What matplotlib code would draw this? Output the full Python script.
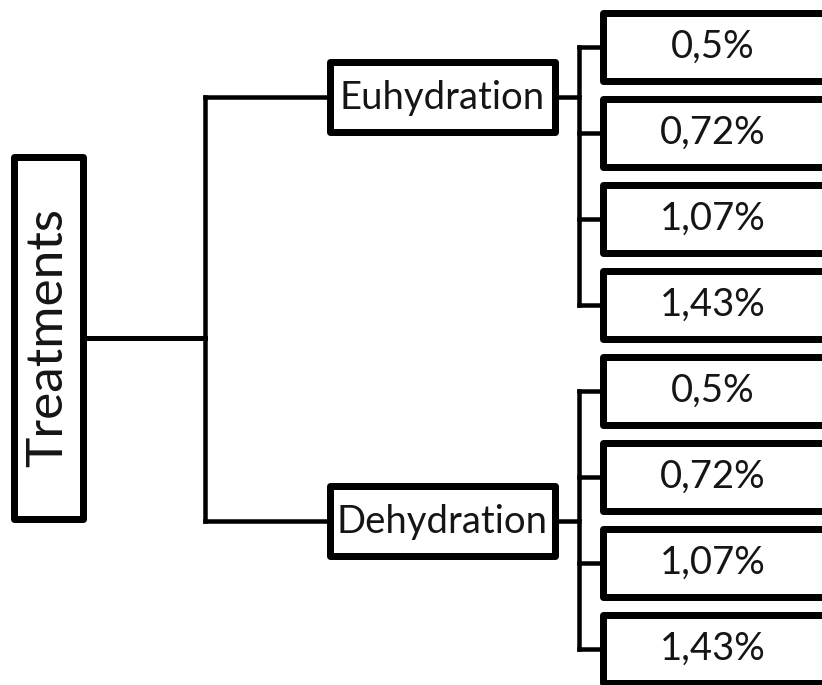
import matplotlib
matplotlib.use("Agg")
import matplotlib.pyplot as plt
from matplotlib.patches import Rectangle

# tree content
root_label = "Treatments"
group_labels = ["Euhydration", "Dehydration"]
dose_labels = ["0,5%", "0,72%", "1,07%", "1,43%"]

# layout in pixels (figure is 822 x 685, y grows downward)
W, H = 822, 685
root_box = (10, 153, 86, 522)          # left, top, right, bottom (outer edge)
root_center_y = 338
trunk_x = 205
group_box_x = (326, 558)
group_center_y = [97, 521]
group_box_h = 77
branch_x = 579
leaf_box_x = (599, 830)
leaf_first_y = 47
leaf_pitch = 86
leaf_box_h = 75

border_px = 7
line_px = 4.5
px2pt = 72 / 100

plt.rcParams["font.family"] = ["Lato", "DejaVu Sans"]
text_color = "#151515"

fig = plt.figure(figsize=(W / 100, H / 100), dpi=100)
ax = fig.add_axes([0, 0, 1, 1])
ax.set_xlim(0, W)
ax.set_ylim(H, 0)
ax.axis("off")


def box(x0, y0, x1, y1):
    # outer edges given, stroke is centred on the path
    h = border_px / 2
    ax.add_patch(Rectangle((x0 + h, y0 + h), x1 - x0 - border_px, y1 - y0 - border_px,
                           fill=True, facecolor="white", edgecolor="black",
                           linewidth=border_px * px2pt, joinstyle="round", zorder=3))


def seg(xs, ys, lw=line_px):
    ax.plot(xs, ys, color="black", linewidth=lw * px2pt,
            solid_capstyle="projecting", zorder=2)


# root
box(*root_box)
ax.text((root_box[0] + root_box[2]) / 2, (root_box[1] + root_box[3]) / 2, root_label,
        rotation=90, ha="center", va="center", fontsize=37, color=text_color, zorder=4)
seg([root_box[2], trunk_x], [root_center_y, root_center_y], lw=5)
seg([trunk_x, trunk_x], [group_center_y[0], group_center_y[-1]])

for g, (label, gy) in enumerate(zip(group_labels, group_center_y)):
    seg([trunk_x, group_box_x[0]], [gy, gy])
    box(group_box_x[0], gy - group_box_h / 2, group_box_x[1], gy + group_box_h / 2)
    ax.text(sum(group_box_x) / 2, gy + 1, label, ha="center", va="center",
            fontsize=27.5, color=text_color, zorder=4)
    seg([group_box_x[1], branch_x], [gy, gy])

    leaf_y = [leaf_first_y + leaf_pitch * (g * len(dose_labels) + i)
              for i in range(len(dose_labels))]
    seg([branch_x, branch_x], [leaf_y[0], leaf_y[-1]])
    for ly, dose in zip(leaf_y, dose_labels):
        seg([branch_x, leaf_box_x[0]], [ly, ly])
        box(leaf_box_x[0], ly - leaf_box_h / 2, leaf_box_x[1], ly + leaf_box_h / 2)
        ax.text(713, ly, dose, ha="center", va="center",
                fontsize=27.5, color=text_color, zorder=4)

plt.savefig("out.png", dpi=100)
